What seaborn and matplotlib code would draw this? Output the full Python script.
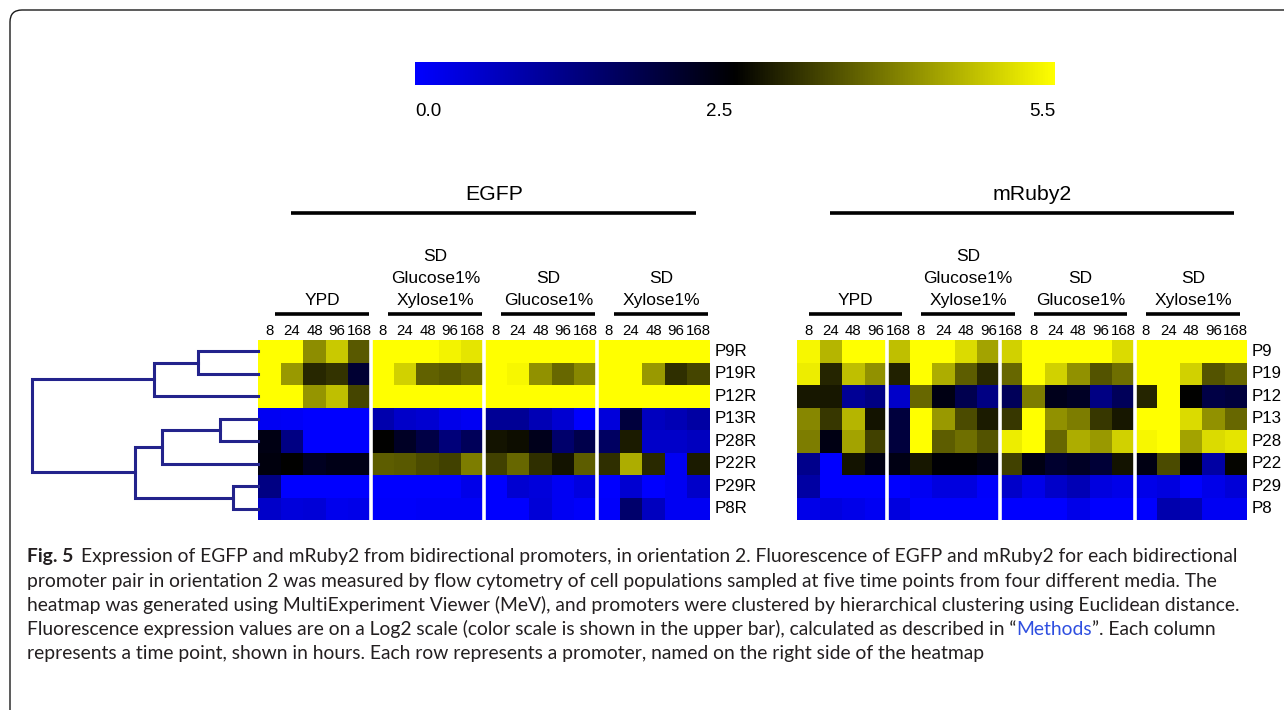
import numpy as np
import pandas as pd
import matplotlib
matplotlib.use("Agg")
import matplotlib.pyplot as plt
import seaborn as sns
from matplotlib.colors import LinearSegmentedColormap
from matplotlib.patches import FancyBboxPatch
from matplotlib.transforms import blended_transform_factory

# ---------------- data ----------------
promoters = ["P9R", "P19R", "P12R", "P13R", "P28R", "P22R", "P29R", "P8R"]
promoters_mruby = ["P9", "P19", "P12", "P13", "P28", "P22", "P29", "P8"]
time_points = ["8", "24", "48", "96", "168"]
media = ["YPD", "SD\nGlucose1%\nXylose1%", "SD\nGlucose1%", "SD\nXylose1%"]
scale_ticks = [0.0, 2.5, 5.5]
scale_labels = ["0.0", "2.5", "5.5"]

# columns: YPD(8..168) | SD Glc+Xyl | SD Glc | SD Xyl   (log2 fluorescence)
egfp_values = [
    [5.5, 5.5, 4.26, 4.9, 3.7,   5.5, 5.5, 5.5, 5.35, 5.2,   5.5, 5.5, 5.5, 5.5, 5.5,    5.5, 5.5, 5.5, 5.5, 5.5],
    [5.5, 4.4, 3.17, 3.3, 2.2,   5.5, 5.0, 3.8, 3.7, 3.85,   5.5, 5.4, 4.3, 3.85, 4.2,   5.5, 5.5, 4.4, 3.25, 3.5],
    [5.5, 5.5, 4.35, 4.8, 3.5,   5.5, 5.5, 5.5, 5.5, 5.5,    5.5, 5.5, 5.5, 5.5, 5.5,    5.5, 5.5, 5.5, 5.5, 5.5],
    [0.15, 0.1, 0.0, 0.0, 0.0,   0.9, 0.6, 0.5, 0.25, 0.15,  1.15, 1.15, 0.8, 0.5, 0.0,  0.4, 2.1, 0.7, 0.8, 1.0],
    [2.55, 1.35, 0.0, 0.0, 0.0,  2.75, 2.35, 2.0, 1.45, 1.8, 2.95, 2.9, 2.45, 1.6, 1.95, 1.7, 3.05, 0.6, 0.6, 0.7],
    [2.6, 2.75, 2.4, 2.5, 2.5,   3.75, 3.7, 3.55, 3.45, 4.1, 3.45, 3.85, 3.25, 2.95, 3.75, 3.25, 4.6, 3.2, 0.15, 3.05],
    [1.35, 0.0, 0.0, 0.0, 0.0,   0.0, 0.0, 0.0, 0.0, 0.25,   0.0, 0.5, 0.4, 0.15, 0.35,  0.0, 0.5, 0.0, 0.15, 0.6],
    [0.6, 0.4, 0.45, 0.2, 0.25,  0.05, 0.05, 0.1, 0.1, 0.1,  0.0, 0.0, 0.45, 0.15, 0.05, 0.05, 1.6, 0.7, 0.15, 0.15],
]

mruby_values = [
    [5.4, 4.7, 5.5, 5.5, 4.8,    5.5, 5.5, 5.1, 4.5, 5.0,    5.5, 5.5, 5.5, 5.5, 5.1,    5.5, 5.5, 5.5, 5.5, 5.5],
    [5.3, 3.15, 4.8, 4.3, 3.1,   5.5, 4.6, 3.75, 3.2, 3.85,  5.5, 5.0, 4.3, 3.65, 3.95,  5.5, 5.5, 5.0, 3.65, 3.85],
    [3.0, 3.0, 1.15, 1.35, 0.6,  3.85, 2.55, 1.9, 1.35, 1.8, 4.1, 2.45, 2.35, 1.35, 1.8, 3.15, 5.5, 2.75, 2.0, 2.1],
    [4.2, 3.35, 4.7, 2.95, 2.1,  5.5, 4.4, 3.55, 3.05, 3.35, 5.5, 4.3, 4.1, 3.35, 3.0,  5.5, 5.5, 5.1, 4.3, 3.85],
    [4.1, 2.55, 4.5, 3.45, 2.1,  5.5, 3.75, 3.95, 3.65, 5.3, 5.5, 3.85, 4.6, 4.4, 5.0,  5.4, 5.5, 4.5, 5.1, 5.2],
    [1.25, 0.0, 2.95, 2.55, 2.55, 3.0, 2.7, 2.7, 2.55, 3.45, 2.55, 2.25, 2.35, 2.15, 2.95, 2.55, 3.55, 2.65, 1.0, 2.8],
    [1.0, 0.0, 0.0, 0.0, 0.0,    0.15, 0.35, 0.35, 0.05, 0.6, 0.25, 0.6, 0.8, 0.35, 0.25, 0.25, 0.35, 0.0, 0.25, 0.45],
    [0.25, 0.35, 0.25, 0.15, 0.35, 0.0, 0.0, 0.0, 0.0, 0.0,  0.0, 0.0, 0.25, 0.0, 0.0,   0.0, 0.9, 0.8, 0.15, 0.15],
]

# hierarchical clustering (Euclidean) merges: (child a, child b, height); new nodes numbered 8, 9, ...
linkage = [
    (0, 1, 0.60),
    (8, 2, 1.04),
    (3, 4, 0.38),
    (10, 5, 0.96),
    (6, 7, 0.25),
    (11, 12, 1.23),
    (9, 13, 2.26),
]

caption_lines = [
    [("Fig. 5", "bold"), ("Expression of EGFP and mRuby2 from bidirectional promoters, in orientation 2. Fluorescence of EGFP and mRuby2 for each bidirectional", "normal")],
    [("promoter pair in orientation 2 was measured by flow cytometry of cell populations sampled at five time points from four different media. The", "normal")],
    [("heatmap was generated using MultiExperiment Viewer (MeV), and promoters were clustered by hierarchical clustering using Euclidean distance.", "normal")],
    [("Fluorescence expression values are on a Log2 scale (color scale is shown in the upper bar), calculated as described in \u201c", "normal"),
     ("Methods", "link"), ("\u201d. Each column", "normal")],
    [("represents a time point, shown in hours. Each row represents a promoter, named on the right side of the heatmap", "normal")],
]

# ---------------- style ----------------
plt.rcParams["font.family"] = ["Liberation Sans", "DejaVu Sans"]
W, H = 1284, 710
fig = plt.figure(figsize=(W / 100, H / 100), dpi=100)
fig.patch.set_facecolor("white")

cmap = LinearSegmentedColormap.from_list("mev", ["#0000FF", "#000000", "#FFFF00"])
columns = [f"{m.splitlines()[-1]}_{t}" for m in media for t in time_points]
col_labels = time_points * len(media)


def px_axes(x0, y0, x1, y1):
    return fig.add_axes([x0 / W, 1 - y1 / H, (x1 - x0) / W, (y1 - y0) / H])


ax_e = px_axes(258, 340, 710, 520)
ax_m = px_axes(797, 340, 1247, 520)
ax_d = px_axes(28, 340, 258, 520)
cax = px_axes(415, 62, 1055, 85)

df_e = pd.DataFrame(egfp_values, index=promoters, columns=columns)
df_m = pd.DataFrame(mruby_values, index=promoters_mruby, columns=columns)

sns.heatmap(df_e, ax=ax_e, cmap=cmap, vmin=0, vmax=5.5, cbar=True, cbar_ax=cax,
            cbar_kws=dict(orientation="horizontal", ticks=scale_ticks),
            xticklabels=col_labels, yticklabels=promoters)
sns.heatmap(df_m, ax=ax_m, cmap=cmap, vmin=0, vmax=5.5, cbar=False,
            xticklabels=col_labels, yticklabels=promoters_mruby)

# colour bar
cbar = ax_e.collections[0].colorbar
cbar.outline.set_visible(False)
cax.tick_params(axis="x", length=0, labelsize=13.5, pad=13)
cax.set_xticks(scale_ticks)
cax.set_xticklabels(scale_labels)
tl = cax.get_xticklabels()
tl[0].set_ha("left")
tl[1].set_ha("left")
tl[2].set_ha("right")

panel_cfg = [
    (ax_e, "EGFP", [5, 10, 15], 0.35),
    (ax_m, "mRuby2", [4, 9, 15], 0.1),
]


def yfrac(ypx):
    return (520 - ypx) / 180.0


for ax, title, seps, shift in panel_cfg:
    ax.xaxis.tick_top()
    ax.yaxis.tick_right()
    ax.tick_params(axis="x", length=0, pad=1.5, labelsize=10.8)
    ax.tick_params(axis="y", length=0, pad=3.5, labelsize=12.2)
    plt.setp(ax.get_xticklabels(), rotation=0)
    plt.setp(ax.get_yticklabels(), rotation=0, va="center")
    for s in seps:
        ax.axvline(s, color="white", lw=2.6)
    tr = blended_transform_factory(ax.transData, ax.transAxes)
    ax.text(10.45, yfrac(195), title, transform=tr, ha="center", va="center", fontsize=15.3)
    ax.plot([1.45, 19.4], [yfrac(213)] * 2, transform=tr, color="black", lw=2.6,
            clip_on=False, solid_capstyle="butt")
    for g, name in enumerate(media):
        c = 5 * g + 2.5 + shift
        ax.plot([c - 2.08, c + 2.08], [yfrac(314)] * 2, transform=tr, color="black", lw=2.6,
                clip_on=False, solid_capstyle="butt")
        ax.text(c, yfrac(308), name, transform=tr, ha="center", va="bottom",
                fontsize=12.5, linespacing=1.6)

# dendrogram
pos = {i: i + 0.5 for i in range(len(promoters))}
hgt = {i: 0.0 for i in range(len(promoters))}
for k, (a, b, h) in enumerate(linkage):
    n = len(promoters) + k
    ax_d.plot([hgt[a], h, h, hgt[b]], [pos[a], pos[a], pos[b], pos[b]],
              color="#23238C", lw=2.2, clip_on=False, solid_joinstyle="miter")
    pos[n] = (pos[a] + pos[b]) / 2
    hgt[n] = h
ax_d.set_xlim(2.30, 0)
ax_d.set_ylim(len(promoters), 0)
ax_d.axis("off")

# frame around figure panel
frame = FancyBboxPatch((0.10, -1.0), 14.0, 8.0, boxstyle="round,pad=0,rounding_size=0.12",
                       transform=fig.dpi_scale_trans, fill=False, ec="#1a1a1a", lw=1.0)
fig.add_artist(frame)

# caption
cap_font = "Lato"
cap_color = "#231F20"
link_color = "#2F4FE0"
renderer = fig.canvas.get_renderer()
probe = fig.text(0, 0, caption_lines[1][0][0], fontsize=10, family=cap_font)
w10 = probe.get_window_extent(renderer=renderer).width
probe.remove()
cap_size = 10 * 1195.0 / w10

baselines = [562, 587, 611, 635, 659]
for parts, yb in zip(caption_lines, baselines):
    x = 27.0
    for i, (s, kind) in enumerate(parts):
        kw = dict(fontsize=cap_size, family=cap_font, va="baseline", ha="left", color=cap_color)
        if kind == "bold":
            kw["fontweight"] = "bold"
        if kind == "link":
            kw["color"] = link_color
        t = fig.text(x / W, 1 - yb / H, s, **kw)
        x += t.get_window_extent(renderer=renderer).width
        if kind == "bold":
            x += 8

fig.savefig("out.png", dpi=100)
